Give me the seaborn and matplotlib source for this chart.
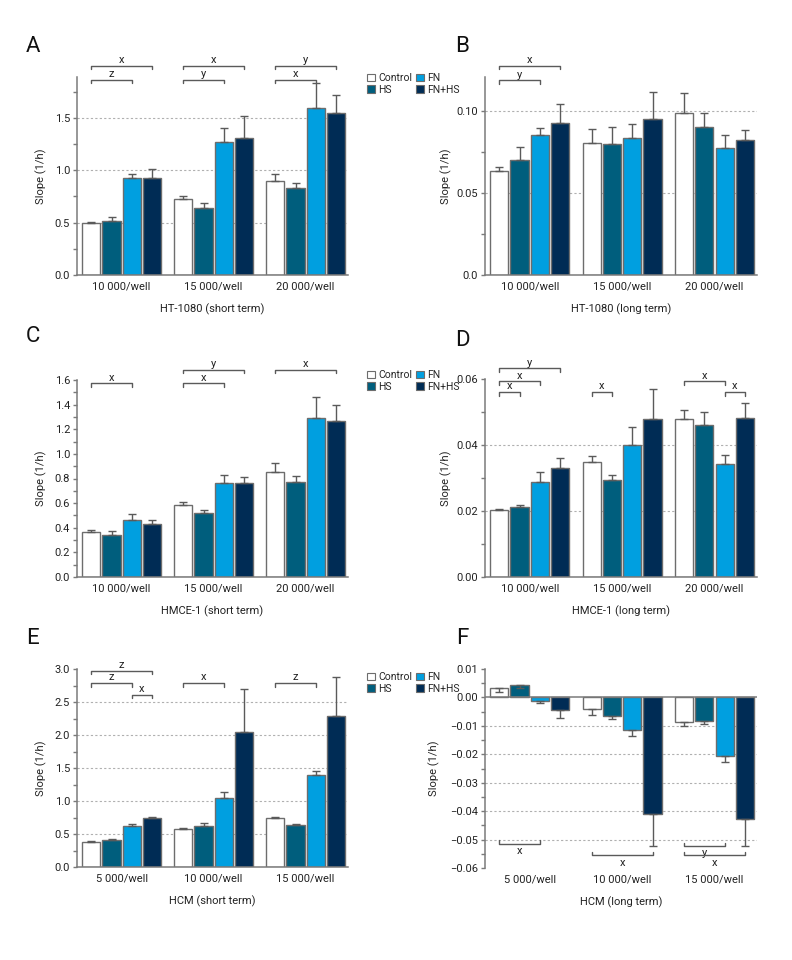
import numpy as np
import pandas as pd
import matplotlib
matplotlib.use("Agg")
import matplotlib.pyplot as plt
import seaborn as sns
from matplotlib.patches import Patch
from matplotlib.ticker import MultipleLocator, FuncFormatter

# -----------------------------------------------------------------------------
# Data
# -----------------------------------------------------------------------------
treatments = ["Control", "HS", "FN", "FN+HS"]
colors = ["#ffffff", "#005e7d", "#009fe0", "#002c55"]

wells_high = ["10 000/well", "15 000/well", "20 000/well"]
wells_low = ["5 000/well", "10 000/well", "15 000/well"]

# rows = treatments (Control, HS, FN, FN+HS), columns = cell densities
a_mean = [[0.500, 0.725, 0.900], [0.515, 0.640, 0.835], [0.925, 1.270, 1.590], [0.925, 1.310, 1.550]]
a_err = [[0.010, 0.030, 0.065], [0.040, 0.050, 0.040], [0.040, 0.135, 0.240], [0.085, 0.210, 0.170]]

b_mean = [[0.0634, 0.0802, 0.0986], [0.0703, 0.0800, 0.0901], [0.0855, 0.0836, 0.0776], [0.0929, 0.0954, 0.0824]]
b_err = [[0.0025, 0.0091, 0.0124], [0.0075, 0.0105, 0.0085], [0.0042, 0.0087, 0.0077], [0.0111, 0.0163, 0.0059]]

c_mean = [[0.365, 0.584, 0.851], [0.343, 0.519, 0.770], [0.462, 0.762, 1.295], [0.430, 0.765, 1.265]]
c_err = [[0.019, 0.027, 0.073], [0.030, 0.022, 0.052], [0.046, 0.065, 0.167], [0.029, 0.051, 0.135]]

d_mean = [[0.0203, 0.0347, 0.0478], [0.0213, 0.0294, 0.0462], [0.0289, 0.0400, 0.0342], [0.0329, 0.0480, 0.0483]]
d_err = [[0.0003, 0.0019, 0.0027], [0.0006, 0.0016, 0.0037], [0.0028, 0.0056, 0.0028], [0.0032, 0.0090, 0.0045]]

e_mean = [[0.378, 0.580, 0.736], [0.403, 0.615, 0.640], [0.625, 1.044, 1.397], [0.741, 2.042, 2.294]]
e_err = [[0.020, 0.005, 0.020], [0.020, 0.050, 0.010], [0.025, 0.090, 0.050], [0.010, 0.650, 0.590]]

f_mean = [[0.0032, -0.0042, -0.0085], [0.0043, -0.0065, -0.0082], [-0.0014, -0.0113, -0.0207], [-0.0045, -0.0409, -0.0429]]
f_err = [[0.0014, 0.0019, 0.0015], [0.0010, 0.0011, 0.0011], [0.0004, 0.0021, 0.0021], [0.0029, 0.0114, 0.0094]]

# significance brackets: (group, first bar, second bar, label)
a_sig = [(0, 0, 2, "z"), (0, 0, 3, "x"), (1, 0, 2, "y"), (1, 0, 3, "x"), (2, 0, 2, "x"), (2, 0, 3, "y")]
b_sig = [(0, 0, 2, "y"), (0, 0, 3, "x")]
c_sig = [(0, 0, 2, "x"), (1, 0, 2, "x"), (1, 0, 3, "y"), (2, 0, 3, "x")]
d_sig = [(0, 0, 1, "x"), (0, 0, 2, "x"), (0, 0, 3, "y"), (1, 0, 1, "x"), (2, 0, 2, "x"), (2, 2, 3, "x")]
e_sig = [(0, 0, 3, "z"), (0, 0, 2, "z"), (0, 2, 3, "x"), (1, 0, 2, "x"), (2, 0, 2, "z")]
f_sig = [(0, 0, 2, "x"), (1, 0, 3, "x"), (2, 0, 2, "y"), (2, 0, 3, "x")]

# -----------------------------------------------------------------------------
# Styling / layout
# -----------------------------------------------------------------------------
sns.set_style("ticks")
# no condensed face is installed, Roboto is the narrowest one we have
plt.rcParams["font.family"] = ["Roboto", "DejaVu Sans"]
plt.rcParams["axes.unicode_minus"] = True

FS = 8
GRAY = "#7a7a7a"
EDGE = "#6d6d6d"
ERR = "#5a5a5a"
TXT = "#222222"
W, H = 792, 960


def rect(left, top, right, bottom):
    return [left / W, 1 - bottom / H, (right - left) / W, (bottom - top) / H]


def fmt_plain(n):
    def f(v, pos):
        if abs(v) < 1e-12:
            return "0." + "0" * n
        return f"{v:.{n}f}".replace("-", "\u2212")
    return FuncFormatter(f)


def fmt_b(v, pos):
    if abs(v) < 1e-12:
        return "0.0"
    return f"{v:.2f}"


# bracket levels in axes fraction (per panel, matched to sig order)
panels = [
    dict(letter="A", groups=wells_high, mean=a_mean, err=a_err, sig=a_sig,
         levels=[0.985, 1.057, 0.985, 1.057, 0.985, 1.057],
         xlabel="HT-1080 (short term)", ylim=(0, 1.89), major=0.5, minor=0.25,
         fmt=fmt_plain(1), grid=[0.5, 1.0, 1.5], down=False, ylx=-0.11,
         rect=rect(77, 77, 348, 275), lpos=(33, 47)),
    dict(letter="B", groups=wells_high, mean=b_mean, err=b_err, sig=b_sig,
         levels=[0.983, 1.055],
         xlabel="HT-1080 (long term)", ylim=(0, 0.1207), major=0.05, minor=0.025,
         fmt=FuncFormatter(fmt_b), grid=[0.05, 0.10], down=False, ylx=-0.12,
         rect=rect(485, 77, 757, 275), lpos=(462, 47)),
    dict(letter="C", groups=wells_high, mean=c_mean, err=c_err, sig=c_sig,
         levels=[0.983, 0.983, 1.05, 1.05],
         xlabel="HMCE-1 (short term)", ylim=(0, 1.6), major=0.2, minor=0.1,
         fmt=fmt_plain(1), grid=[], down=False, ylx=-0.11,
         rect=rect(77, 380, 348, 577), lpos=(33, 336)),
    dict(letter="D", groups=wells_high, mean=d_mean, err=d_err, sig=d_sig,
         levels=[0.933, 0.988, 1.054, 0.933, 0.988, 0.933],
         xlabel="HMCE-1 (long term)", ylim=(0, 0.06), major=0.02, minor=0.01,
         fmt=fmt_plain(2), grid=[0.02, 0.04], down=False, ylx=-0.12,
         rect=rect(485, 379, 757, 577), lpos=(462, 341)),
    dict(letter="E", groups=wells_low, mean=e_mean, err=e_err, sig=e_sig,
         levels=[0.990, 0.928, 0.869, 0.928, 0.928],
         xlabel="HCM (short term)", ylim=(0, 3.0), major=0.5, minor=0.25,
         fmt=fmt_plain(1), grid=[0.5, 1.0, 1.5, 2.0, 2.5], down=False, ylx=-0.11,
         rect=rect(77, 669, 348, 867), lpos=(33, 638)),
    dict(letter="F", groups=wells_low, mean=f_mean, err=f_err, sig=f_sig,
         levels=[0.1225, 0.064, 0.111, 0.064],
         xlabel="HCM (long term)", ylim=(-0.06, 0.01), major=0.01, minor=0.005,
         fmt=fmt_plain(2), grid=[-0.01, -0.02, -0.03, -0.04, -0.05], down=True,
         ylx=-0.165, rect=rect(485, 669, 757, 868), lpos=(462, 639)),
]

fig = plt.figure(figsize=(W / 100, H / 100), dpi=100)
palette = dict(zip(treatments, colors))

for p in panels:
    ax = fig.add_axes(p["rect"])
    rows = []
    for ti, t in enumerate(treatments):
        for gi, g in enumerate(p["groups"]):
            rows.append({"group": g, "treatment": t, "value": p["mean"][ti][gi]})
    df = pd.DataFrame(rows)

    sns.barplot(data=df, x="group", y="value", hue="treatment",
                order=p["groups"], hue_order=treatments, palette=palette,
                saturation=1, width=0.88, gap=0.1, edgecolor=EDGE, linewidth=1,
                errorbar=None, legend=False, ax=ax, zorder=2)

    # one-sided error bars
    bar_conts = list(ax.containers)
    centers = []
    for ti, cont in enumerate(bar_conts):
        cx = []
        for gi, bar in enumerate(cont):
            x = bar.get_x() + bar.get_width() / 2
            cx.append(x)
            y = p["mean"][ti][gi]
            e = p["err"][ti][gi]
            yerr = [[e], [0]] if (p["down"] or y < 0) else [[0], [e]]
            ax.errorbar([x], [y], yerr=yerr, fmt="none", ecolor=ERR,
                        elinewidth=1, capsize=3, capthick=1, zorder=3)
        centers.append(cx)

    ax.set_xlim(-0.485, 2.46)
    ax.set_ylim(*p["ylim"])
    ax.yaxis.set_major_locator(MultipleLocator(p["major"]))
    ax.yaxis.set_minor_locator(MultipleLocator(p["minor"]))
    ax.yaxis.set_major_formatter(p["fmt"])

    for g in p["grid"]:
        ax.axhline(g, color="#b0b0b0", lw=0.8, ls=(0, (2, 2)), zorder=0)

    sns.despine(ax=ax)
    ax.spines["left"].set_color(GRAY)
    ax.spines["bottom"].set_color(GRAY)
    ax.spines["left"].set_linewidth(1.1)
    ax.spines["bottom"].set_linewidth(1.1)
    if p["down"]:
        ax.spines["bottom"].set_visible(False)
        ax.axhline(0, color=GRAY, lw=1.1, zorder=4)

    ax.tick_params(axis="y", which="both", length=3, width=1, color=GRAY,
                   labelsize=FS, pad=2, labelcolor=TXT)
    ax.tick_params(axis="x", length=0, labelsize=FS, pad=5, labelcolor=TXT)
    ax.set_xlabel(p["xlabel"], fontsize=FS, color=TXT, labelpad=8)
    ax.set_ylabel("Slope (1/h)", fontsize=FS, color=TXT)
    ax.yaxis.set_label_coords(p["ylx"], 0.5)

    # significance brackets
    trans = ax.get_xaxis_transform()
    tick = 0.017
    for (g, i, j, lab), lev in zip(p["sig"], p["levels"]):
        x0, x1 = centers[i][g], centers[j][g]
        if p["down"]:
            ax.plot([x0, x0, x1, x1], [lev + tick, lev, lev, lev + tick],
                    color=ERR, lw=1, transform=trans, clip_on=False, zorder=5)
            ax.text((x0 + x1) / 2, lev - 0.012, lab, ha="center", va="top",
                    fontsize=FS, color=TXT, transform=trans)
        else:
            ax.plot([x0, x0, x1, x1], [lev - tick, lev, lev, lev - tick],
                    color=ERR, lw=1, transform=trans, clip_on=False, zorder=5)
            ax.text((x0 + x1) / 2, lev + 0.004, lab, ha="center", va="bottom",
                    fontsize=FS, color=TXT, transform=trans)

    fig.text(p["lpos"][0] / W, 1 - p["lpos"][1] / H, p["letter"],
             fontsize=16, ha="center", va="center", color="#111111")

# shared legends between the columns
handles = [Patch(facecolor=c, edgecolor=EDGE, linewidth=0.8) for c in colors]
for top in [68, 365, 667]:
    fig.legend(handles, treatments, ncol=2, frameon=False, fontsize=7.5,
               loc="upper left", bbox_to_anchor=(362 / W, 1 - top / H),
               borderpad=0, handlelength=0.75, handleheight=0.75,
               handletextpad=0.3, columnspacing=0.4, labelspacing=0.15)

fig.savefig("out.png", dpi=100)
